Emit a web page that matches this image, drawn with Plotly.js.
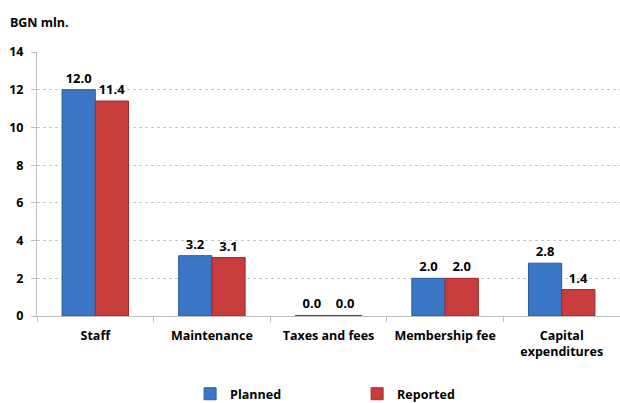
<!DOCTYPE html>
<html>
<head>
<meta charset="utf-8">
<script src="https://cdn.plot.ly/plotly-3.0.1.min.js"></script>
<style>html,body{margin:0;padding:0;background:#fff;}#chart{width:620px;height:403px;}</style>
</head>
<body>
<div id="chart"></div>
<script>
const categories = ["Staff", "Maintenance", "Taxes and fees", "Membership fee", "Capital<br>expenditures"];
const planned = [12.0, 3.2, 0.03, 2.0, 2.8];
const reported = [11.4, 3.1, 0.03, 2.0, 1.4];
const yTicks = [0, 2, 4, 6, 8, 10, 12, 14];

const FAM = "'Open Sans', Lato, sans-serif";
const font = {family: FAM, size: 12.5, color: "#000", weight: "bold"};

const traces = [
  {type: "bar", name: "Planned", x: categories, y: planned,
   marker: {color: "#3b75c5", line: {color: "#2c5a9a", width: 1}},
   text: planned, texttemplate: "%{y:.1f}", textposition: "outside", cliponaxis: false,
   textfont: {family: FAM, size: 13, color: "#000", weight: "bold"}},
  {type: "bar", name: "Reported", x: categories, y: reported,
   marker: {color: "#c83c3c", line: {color: "#9c2a2a", width: 1}},
   text: reported, texttemplate: "%{y:.1f}", textposition: "outside", cliponaxis: false,
   textfont: {family: FAM, size: 13, color: "#000", weight: "bold"}}
];

const layout = {
  width: 620, height: 403,
  margin: {l: 37, r: 0, t: 52, b: 87, autoexpand: false},
  paper_bgcolor: "#fff", plot_bgcolor: "#fff",
  font: font,
  barmode: "group", bargap: 0.43, bargroupgap: 0,
  title: {text: "BGN mln.", x: 0.016, xanchor: "left", xref: "container", y: 0.945, yanchor: "middle", yref: "container",
          font: {family: FAM, size: 12.5, color: "#000", weight: "bold"}},
  xaxis: {showline: true, linecolor: "#bfbfbf", linewidth: 1, ticks: "outside", tickson: "boundaries",
          ticklen: 5, tickcolor: "#bfbfbf", showgrid: false, tickfont: font, automargin: false, ticklabelstandoff: 8},
  yaxis: {range: [0, 14], tickvals: yTicks, ticktext: yTicks.map(String), showline: true, linecolor: "#bfbfbf",
          ticks: "outside", ticklen: 5, tickcolor: "#bfbfbf", showgrid: true, gridcolor: "#c8c8c8", griddash: "dot",
          zeroline: false, tickfont: font, automargin: false, ticklabelstandoff: 5},
  legend: {orientation: "h", x: 0.576, xanchor: "center", xref: "container", y: 0.022, yanchor: "middle", yref: "container",
           entrywidth: 122, font: font, traceorder: "normal", itemwidth: 30},
  showlegend: true
};

Plotly.newPlot("chart", traces, layout, {displayModeBar: false, staticPlot: true});
</script>
</body>
</html>
